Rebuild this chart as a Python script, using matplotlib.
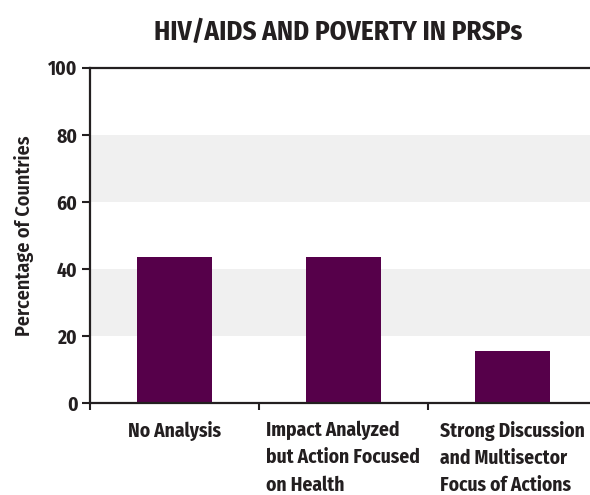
import matplotlib.pyplot as plt
import numpy as np

categories = ['No Analysis',
              'Impact Analyzed\nbut Action Focused\non Health',
              'Strong Discussion\nand Multisector\nFocus of Actions']
values = [43.5, 43.5, 15.5]
yticks = [0, 20, 40, 60, 80, 100]
bands = [(20, 40), (60, 80)]

plt.rcParams['font.family'] = ['Fira Sans Condensed', 'DejaVu Sans']
plt.rcParams['font.stretch'] = 'condensed'

fig = plt.figure(figsize=(5.9, 4.95), dpi=100)
ax = fig.add_axes([0.1525, 0.186, 0.85, 0.677])

# light gray background bands
for lo, hi in bands:
    ax.axhspan(lo, hi, color='#f0f0f0', zorder=0, lw=0)

x = np.arange(len(categories))
ax.bar(x, values, width=0.445, color='#56004a', zorder=2)

ax.set_xlim(-0.5, 2.47)
ax.set_ylim(0, 100)
ax.set_yticks(yticks)
ax.set_yticklabels([str(t) for t in yticks], fontsize=14, fontweight='bold', color='#231f20')

ax.set_xticks(x)
ax.set_xticklabels(categories, fontsize=14, fontweight='bold', color='#231f20',
                   multialignment='left', linespacing=1.5)
ax.tick_params(axis='x', which='major', length=0, pad=13)
ax.set_xticks([-0.5, 0.5, 1.5], minor=True)
ax.tick_params(axis='x', which='minor', length=5, width=1.5, color='#231f20', direction='out')
ax.tick_params(axis='y', length=6, width=1.5, color='#231f20', direction='out', pad=3)

ax.set_ylabel('Percentage of Countries', fontsize=14.5, fontweight='semibold', color='#231f20', labelpad=10)

for side in ['left', 'bottom', 'top']:
    ax.spines[side].set_color('#231f20')
    ax.spines[side].set_linewidth(1.6)
ax.spines['right'].set_visible(False)

fig.text(0.573, 0.935, 'HIV/AIDS AND POVERTY IN PRSPs', ha='center', va='center',
         fontsize=19.5, fontweight='bold', color='#231f20')

fig.savefig('out.png', dpi=100)
